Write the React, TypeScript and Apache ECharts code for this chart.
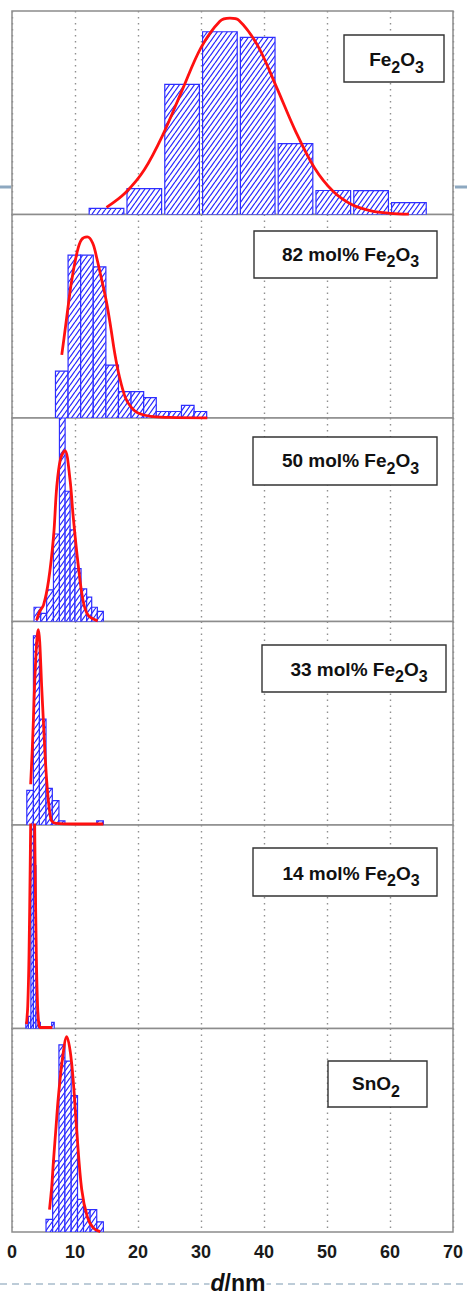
import React, { useEffect, useRef } from 'react';
import * as echarts from 'echarts';

// ---------- data ----------
const X_MIN = 0;
const X_MAX = 70;
const X_STEP = 10;
const Y_MAX = 100; // relative frequency, % of panel height

const panelNames = ['Fe2O3', '82 mol% Fe2O3', '50 mol% Fe2O3', '33 mol% Fe2O3', '14 mol% Fe2O3', 'SnO2'];

// histogram bins: [from d, to d, relative frequency]
const fe2o3Bins = [
  [12.25, 17.75, 3.0], [18.25, 23.75, 12.7], [24.25, 29.75, 63.9], [30.25, 35.75, 89.8],
  [36.25, 41.75, 87.0], [42.25, 47.75, 34.8], [48.25, 53.75, 11.8], [54.25, 59.75, 11.7],
  [60.25, 65.75, 5.8],
];
const fe82Bins = [
  [6.9, 8.9, 23], [8.9, 10.9, 80], [10.9, 12.9, 80], [12.9, 14.9, 74.3], [14.9, 16.9, 26],
  [16.9, 18.9, 13], [18.9, 20.9, 13], [20.9, 22.9, 10], [22.9, 24.9, 3.2], [24.9, 26.9, 3.2],
  [26.9, 28.9, 6.2], [28.9, 30.9, 3.2],
];
const fe50Bins = [
  [3.5, 4.56, 7], [4.56, 5.5, 4], [5.5, 6.58, 15.5], [6.58, 7.53, 43], [7.53, 8.43, 100],
  [8.43, 9.22, 64], [9.22, 10.0, 45], [10.0, 10.96, 26], [10.96, 11.85, 16], [11.85, 12.65, 12],
  [12.65, 13.55, 7], [13.55, 14.5, 5],
];
const fe33Bins = [
  [2.35, 3.4, 17], [3.4, 4.35, 93], [4.35, 5.4, 52], [5.4, 6.4, 18], [6.4, 7.45, 12],
  [7.45, 8.4, 2], [13.45, 14.5, 2],
];
const fe14Bins = [
  [2.2, 2.6, 3], [2.6, 3.0, 6], [3.0, 3.4, 100], [3.4, 3.8, 80], [3.8, 4.2, 8],
  [4.2, 4.5, 3], [6.3, 6.7, 3],
];
const sno2Bins = [
  [5.4, 6.45, 6.2], [6.45, 7.45, 35], [7.45, 8.4, 92], [8.4, 9.4, 84], [9.4, 10.4, 67],
  [10.4, 11.35, 16], [11.35, 12.4, 11], [12.4, 13.45, 11], [13.45, 14.5, 5],
];

// fitted distributions: [d, relative frequency]
const fe2o3Fit = [
  [15, 3.5], [18, 10.7], [21, 22], [24, 39.5], [27, 61], [30, 82], [33, 95], [34.6, 96.5],
  [36, 95.5], [39, 83], [42, 62.5], [45, 41], [48, 23], [51, 11.3], [54, 4.8], [57, 1.8],
  [60, 0.6], [63, 0.2],
];
const fe82Fit = [
  [7.9, 31], [8.5, 45], [9.0, 57], [9.5, 68], [10.3, 81], [11.0, 87.5], [11.95, 89], [12.8, 86],
  [13.5, 78], [14.3, 67], [15.0, 57], [15.7, 44], [16.3, 32], [17.0, 21], [18.0, 10], [19.0, 5],
  [20.0, 2.5], [22, 0.8], [25, 0.3], [31, 0],
];
const fe50Fit = [
  [3.9, 0.5], [4.4, 5], [5.0, 8], [5.8, 20], [6.6, 42], [7.1, 66], [7.7, 80], [8.4, 84],
  [9.2, 70], [9.7, 52], [10.5, 28], [11.3, 10], [12.1, 3], [13.6, 0.3],
];
const fe33Fit = [
  [2.96, 20], [3.2, 36], [3.39, 51], [3.6, 70], [3.81, 84], [4.0, 93], [4.18, 96], [4.4, 90],
  [4.71, 68], [5.0, 50], [5.24, 35], [5.5, 22], [5.77, 12], [6.05, 5], [6.3, 2], [7, 0.8],
  [10, 0.5], [14.5, 0.5],
];
const fe14Fit = [
  [2.3, 2.2], [2.5, 11], [2.7, 36], [2.9, 83], [3.1, 135], [3.28, 156], [3.46, 135], [3.66, 83],
  [3.86, 36], [4.06, 11], [4.26, 2.2], [4.5, 0.5], [6.4, 0.5],
];
const sno2Fit = [
  [5.95, 11], [6.3, 22], [6.56, 34], [7.0, 52], [7.35, 66], [8.04, 86], [8.68, 96], [9.47, 83],
  [10.27, 50], [11.06, 21], [11.95, 7.5], [12.9, 2], [14, 0.2],
];

const panelBins = [fe2o3Bins, fe82Bins, fe50Bins, fe33Bins, fe14Bins, sno2Bins];
const panelFits = [fe2o3Fit, fe82Fit, fe50Fit, fe33Fit, fe14Fit, sno2Fit];

const axisTitleParts = ['d', '/nm'];

// ---------- layout ----------
const W = 467;
const H = 1295;
const PLOT_LEFT = 12;
const PLOT_RIGHT = 453;
const PLOT_TOP = 11;
const PANEL_H = 203.5;

const labelBoxes = [
  [344, 35, 100, 47], [254, 231, 183, 47], [253, 437, 184, 48],
  [262, 645, 184, 47], [253, 848, 184, 48], [328, 1061, 99, 46],
];
const labelCenters = [
  [396.5, 59.5], [350.5, 254], [350.5, 460.5], [359, 669], [351, 873], [376, 1083.5],
];

const FONT = 'Liberation Sans, Arial, Helvetica, sans-serif';

function toRich(name: string) {
  return '{n|' + name.replace(/([A-Za-z])(\d)/g, '$1}{s|$2}{n|') + '}';
}

export default function App() {
  const ref = useRef<HTMLDivElement>(null);

  useEffect(() => {
    if (!ref.current) return;
    const chart = echarts.init(ref.current, null, { renderer: 'svg', width: W, height: H });

    // hatch pattern
    const PW = 5;
    const PH = 7;
    const c = document.createElement('canvas');
    c.width = PW;
    c.height = PH;
    const ctx = c.getContext('2d')!;
    ctx.fillStyle = '#ffffff';
    ctx.fillRect(0, 0, PW, PH);
    ctx.strokeStyle = '#2a2aff';
    ctx.lineWidth = 1.25;
    ctx.beginPath();
    ctx.moveTo(-PW, PH); ctx.lineTo(0, 0);
    ctx.moveTo(0, PH); ctx.lineTo(PW, 0);
    ctx.moveTo(PW, PH); ctx.lineTo(2 * PW, 0);
    ctx.stroke();
    const hatch: any = { image: c, repeat: 'repeat', imageWidth: PW, imageHeight: PH };

    const grids: any[] = [];
    const xAxes: any[] = [];
    const yAxes: any[] = [];
    const series: any[] = [];
    const n = panelNames.length;

    for (let i = 0; i < n; i++) {
      grids.push({
        left: PLOT_LEFT,
        width: PLOT_RIGHT - PLOT_LEFT,
        top: PLOT_TOP + i * PANEL_H,
        height: PANEL_H,
        show: true,
        backgroundColor: '#ffffff',
        borderColor: '#8c8c8c',
        borderWidth: 1.5,
      });
      xAxes.push({
        gridIndex: i,
        type: 'value',
        min: X_MIN,
        max: X_MAX,
        interval: X_STEP,
        axisLine: { show: false },
        axisTick: { show: false },
        axisLabel: {
          show: i === n - 1,
          fontFamily: FONT,
          fontWeight: 'bold',
          fontSize: 18,
          color: '#1a1a1a',
          margin: 11,
          showMinLabel: true,
          showMaxLabel: true,
        },
        splitLine: { show: true, lineStyle: { color: '#909090', width: 1.4, type: [1.4, 4.6] } },
      });
      yAxes.push({ gridIndex: i, type: 'value', min: 0, max: Y_MAX, show: false });

      series.push({
        type: 'custom',
        xAxisIndex: i,
        yAxisIndex: i,
        clip: true,
        z: 2,
        encode: { x: [0, 1], y: 2 },
        data: panelBins[i],
        renderItem: (params: any, api: any) => {
          const x0 = api.value(0);
          const x1 = api.value(1);
          const h = Math.min(api.value(2), Y_MAX);
          const p0 = api.coord([x0, h]);
          const p1 = api.coord([x1, 0]);
          return {
            type: 'rect',
            shape: { x: p0[0], y: p0[1], width: p1[0] - p0[0], height: p1[1] - p0[1] },
            style: { fill: hatch, stroke: '#2e2eff', lineWidth: 1.2 },
          };
        },
      });
      series.push({
        type: 'line',
        xAxisIndex: i,
        yAxisIndex: i,
        data: panelFits[i],
        smooth: 0.35,
        showSymbol: false,
        symbol: 'none',
        clip: true,
        z: 3,
        lineStyle: { color: '#ff1010', width: 2.8 },
      });
    }

    const graphic: any[] = [
      // slide decoration lines
      { type: 'line', z: 0, shape: { x1: 0, y1: 187, x2: PLOT_LEFT - 1, y2: 187 }, style: { stroke: '#8da8c0', lineWidth: 3 } },
      { type: 'line', z: 0, shape: { x1: PLOT_RIGHT + 2, y1: 187, x2: W, y2: 187 }, style: { stroke: '#8da8c0', lineWidth: 3 } },
      { type: 'line', z: 0, shape: { x1: 0, y1: 1284, x2: W, y2: 1284 }, style: { stroke: '#a8bccc', lineWidth: 1.5, lineDash: [7, 5] } },
      {
        type: 'text',
        z: 10,
        x: 238,
        y: 1283,
        style: {
          text: '{i|' + axisTitleParts[0] + '}{n|' + axisTitleParts[1] + '}',
          align: 'center',
          verticalAlign: 'middle',
          backgroundColor: '#ffffff',
          padding: [0, 1],
          rich: {
            i: { fontFamily: FONT, fontSize: 23, fontWeight: 'bold', fontStyle: 'italic', fill: '#111' },
            n: { fontFamily: FONT, fontSize: 23, fontWeight: 'bold', fill: '#111' },
          },
        },
      },
    ];

    for (let i = 0; i < n; i++) {
      const [bx, by, bw, bh] = labelBoxes[i];
      const [cx, cy] = labelCenters[i];
      graphic.push({
        type: 'rect',
        z: 10,
        shape: { x: bx, y: by, width: bw, height: bh },
        style: { fill: '#ffffff', stroke: '#333333', lineWidth: 1.4 },
      });
      graphic.push({
        type: 'text',
        z: 11,
        x: cx,
        y: cy + 3,
        style: {
          text: toRich(panelNames[i]),
          align: 'center',
          verticalAlign: 'middle',
          rich: {
            n: { fontFamily: FONT, fontSize: 19, fontWeight: 'bold', fill: '#111', height: 19, lineHeight: 19, verticalAlign: 'top' },
            s: { fontFamily: FONT, fontSize: 16, fontWeight: 'bold', fill: '#111', height: 16, lineHeight: 25, verticalAlign: 'bottom' },
          },
        },
      });
    }

    chart.setOption({
      animation: false,
      backgroundColor: '#ffffff',
      grid: grids,
      xAxis: xAxes,
      yAxis: yAxes,
      series,
      graphic,
    });

    return () => chart.dispose();
  }, []);

  return (
    <div
      ref={ref}
      style={{ position: 'absolute', left: 0, top: 0, width: W, height: H, background: '#fff' }}
    />
  );
}
